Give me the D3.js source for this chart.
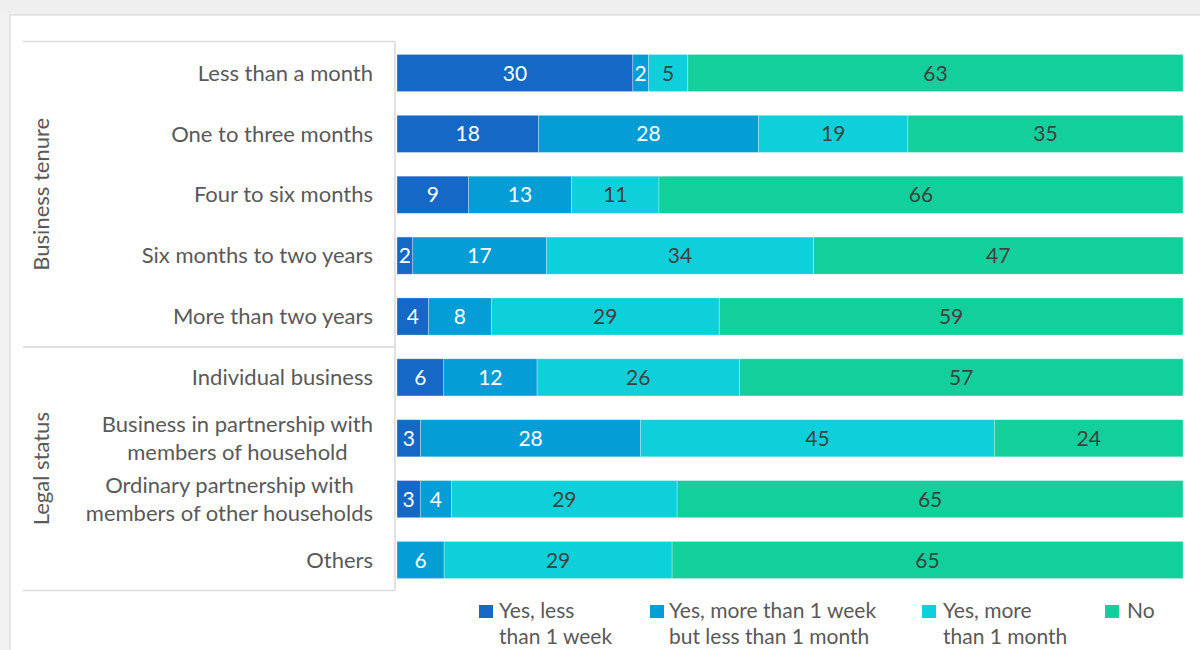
<!DOCTYPE html>
<html>
<head>
<meta charset="utf-8">
<script src="https://cdn.jsdelivr.net/npm/d3@7"></script>
<style>
  html, body { margin: 0; padding: 0; background: #f2f2f2; }
  svg { display: block; }
  text { font-family: Lato, "Open Sans", sans-serif; }
</style>
</head>
<body>
<svg id="chart" width="1200" height="650"></svg>
<script>
// Categories (rows, top to bottom) and their group
const categories = [
  "Less than a month",
  "One to three months",
  "Four to six months",
  "Six months to two years",
  "More than two years",
  "Individual business",
  "Business in partnership with|members of household",
  "Ordinary partnership with|members of other households",
  "Others"
];
const groups = [
  { name: "Business tenure", first: 0, last: 4 },
  { name: "Legal status", first: 5, last: 8 }
];

// Series values (%)
const seriesNames = [
  "Yes, less|than 1 week",
  "Yes, more than 1 week|but less than 1 month",
  "Yes, more|than 1 month",
  "No"
];
const yesLessWeek   = [30, 18,  9,  2,  4,  6,  3,  3,  0];
const yesWeekMonth  = [ 2, 28, 13, 17,  8, 12, 28,  4,  6];
const yesMoreMonth  = [ 5, 19, 11, 34, 29, 26, 45, 29, 29];
const noClosure     = [63, 35, 66, 47, 59, 57, 24, 65, 65];

const colors = ["#1668c6", "#049dd6", "#0dd0da", "#12cf9b"];
const labelColors = ["#ffffff", "#ffffff", "#404040", "#404040"];
const keys = ["a", "b", "c", "d"];
const seriesValues = [yesLessWeek, yesWeekMonth, yesMoreMonth, noClosure];

const rows = categories.map((c, i) => {
  const r = { cat: c };
  keys.forEach((k, j) => r[k] = seriesValues[j][i]);
  return r;
});

const svg = d3.select("#chart");

// Card background
svg.append("rect").attr("x", 0).attr("y", 0).attr("width", 1200).attr("height", 15)
  .attr("fill", "#efefef");
svg.append("rect").attr("x", 10).attr("y", 15).attr("width", 1200).attr("height", 640)
  .attr("fill", "#ffffff").attr("stroke", "#d9d9d9").attr("stroke-width", 1.2);

const x = d3.scaleLinear().domain([0, 1]).range([397, 1183]);
const y = d3.scaleBand().domain(categories).range([43, 590])
  .paddingInner(0.39).paddingOuter(0.188);

const stack = d3.stack().keys(keys).offset(d3.stackOffsetExpand);
const stacked = stack(rows);

// Bars
const layers = svg.append("g").selectAll("g").data(stacked).join("g")
  .attr("fill", (d, i) => colors[i]);
layers.selectAll("rect").data(d => d).join("rect")
  .attr("x", d => x(d[0]))
  .attr("y", d => y(d.data.cat))
  .attr("width", d => Math.max(0, x(d[1]) - x(d[0])))
  .attr("height", y.bandwidth())
  .attr("stroke", "rgba(255,255,255,0.35)")
  .attr("stroke-width", 0.8);

// Value labels
stacked.forEach((layer, i) => {
  svg.append("g").selectAll("text").data(layer.filter(d => d.data[layer.key] > 0)).join("text")
    .attr("x", d => (x(d[0]) + x(d[1])) / 2)
    .attr("y", d => y(d.data.cat) + y.bandwidth() / 2)
    .attr("dy", "0.36em")
    .attr("font-size", 21)
    .attr("fill", labelColors[i])
    .attr("text-anchor", "middle")
    .text(d => d.data[layer.key]);
});

// Category labels (multi-line labels centred as a block, block right-aligned)
const labelRight = 373;
categories.forEach(c => {
  const lines = c.split("|");
  const cy = y(c) + y.bandwidth() / 2;
  const g = svg.append("g");
  const texts = lines.map((ln, k) => g.append("text")
    .attr("y", cy + (k - (lines.length - 1) / 2) * 28)
    .attr("dy", "0.35em")
    .attr("font-size", 22)
    .attr("fill", "#595959")
    .text(ln));
  const w = d3.max(texts, t => t.node().getComputedTextLength());
  texts.forEach(t => t.attr("text-anchor", "middle").attr("x", labelRight - w / 2));
});

// Group frame lines
const frame = svg.append("g").attr("stroke", "#d9d9d9").attr("stroke-width", 1.5).attr("fill", "none");
const step = y.step();
const boundaries = [
  y(categories[0]) - (step - y.bandwidth()) / 2 - 1,
  ...groups.slice(1).map(g => y(categories[g.first]) - (step - y.bandwidth()) / 2),
  y(categories[categories.length - 1]) + y.bandwidth() + (step - y.bandwidth()) / 2
];
boundaries.forEach(b => frame.append("line").attr("x1", 23).attr("x2", 395).attr("y1", b).attr("y2", b));
frame.append("line").attr("x1", 395).attr("x2", 395).attr("y1", boundaries[0]).attr("y2", boundaries[boundaries.length - 1]);

// Group labels
groups.forEach((g, i) => {
  const cy = (boundaries[i] + boundaries[i + 1]) / 2;
  svg.append("text")
    .attr("transform", `translate(41,${cy}) rotate(-90)`)
    .attr("text-anchor", "middle")
    .attr("dy", "0.35em")
    .attr("font-size", 22)
    .attr("fill", "#595959")
    .text(g.name);
});

// Legend
const legendX = [479, 650, 922, 1105];
const legendTextX = [499, 669, 943, 1127];
const legend = svg.append("g");
seriesNames.forEach((name, i) => {
  legend.append("rect").attr("x", legendX[i]).attr("y", 605)
    .attr("width", 14).attr("height", 13).attr("fill", colors[i]);
  name.split("|").forEach((ln, k) => {
    legend.append("text")
      .attr("x", legendTextX[i])
      .attr("y", 618 + k * 25.5)
      .attr("font-size", 21)
      .attr("fill", "#595959")
      .text(ln);
  });
});
</script>
</body>
</html>
